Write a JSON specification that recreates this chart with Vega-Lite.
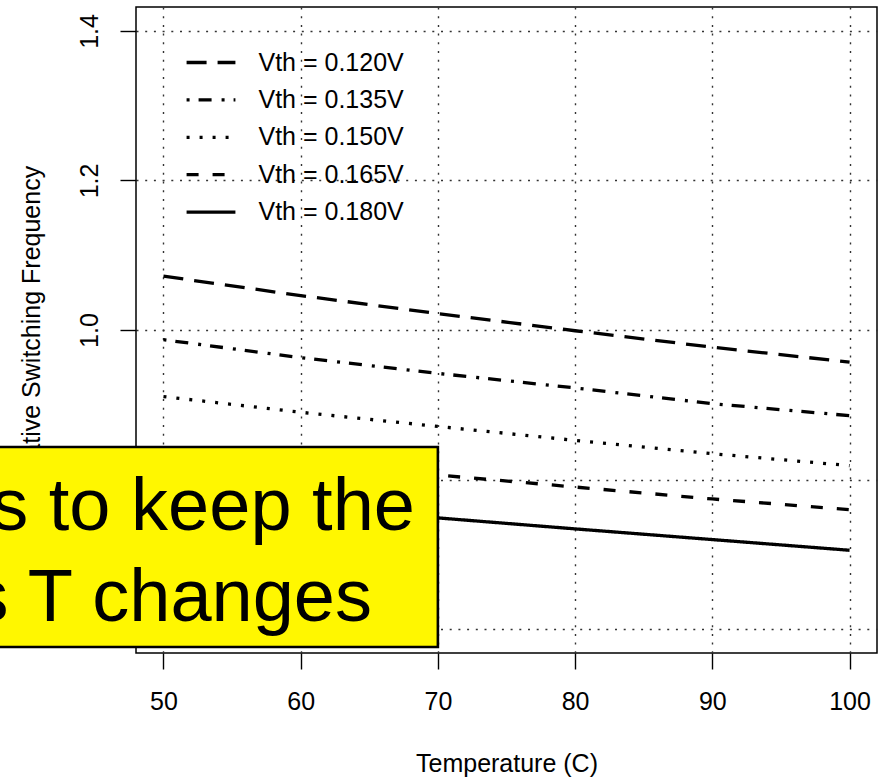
{
  "$schema": "https://vega.github.io/schema/vega-lite/v6.json",
  "autosize": {"type": "none"},
  "width": 741,
  "height": 646,
  "padding": {"left": 136, "top": 7, "right": 1, "bottom": 125},
  "background": "white",
  "config": {
    "view": {"stroke": "black", "strokeWidth": 1.5},
    "font": "Liberation Sans"
  },
  "datasets": {
    "curves": [
      {"series": "Vth = 0.120V", "T": 50, "f": 1.072},
      {"series": "Vth = 0.120V", "T": 60, "f": 1.046},
      {"series": "Vth = 0.120V", "T": 70, "f": 1.022},
      {"series": "Vth = 0.120V", "T": 80, "f": 0.999},
      {"series": "Vth = 0.120V", "T": 90, "f": 0.977},
      {"series": "Vth = 0.120V", "T": 100, "f": 0.957},
      {"series": "Vth = 0.135V", "T": 50, "f": 0.987},
      {"series": "Vth = 0.135V", "T": 60, "f": 0.963},
      {"series": "Vth = 0.135V", "T": 70, "f": 0.942},
      {"series": "Vth = 0.135V", "T": 80, "f": 0.9225},
      {"series": "Vth = 0.135V", "T": 90, "f": 0.9015},
      {"series": "Vth = 0.135V", "T": 100, "f": 0.8854},
      {"series": "Vth = 0.150V", "T": 50, "f": 0.911},
      {"series": "Vth = 0.150V", "T": 60, "f": 0.890},
      {"series": "Vth = 0.150V", "T": 70, "f": 0.871},
      {"series": "Vth = 0.150V", "T": 80, "f": 0.8524},
      {"series": "Vth = 0.150V", "T": 90, "f": 0.8346},
      {"series": "Vth = 0.150V", "T": 100, "f": 0.8186},
      {"series": "Vth = 0.165V", "T": 50, "f": 0.841},
      {"series": "Vth = 0.165V", "T": 60, "f": 0.823},
      {"series": "Vth = 0.165V", "T": 70, "f": 0.806},
      {"series": "Vth = 0.165V", "T": 80, "f": 0.790},
      {"series": "Vth = 0.165V", "T": 90, "f": 0.774},
      {"series": "Vth = 0.165V", "T": 100, "f": 0.7598},
      {"series": "Vth = 0.180V", "T": 50, "f": 0.780},
      {"series": "Vth = 0.180V", "T": 60, "f": 0.764},
      {"series": "Vth = 0.180V", "T": 70, "f": 0.7487},
      {"series": "Vth = 0.180V", "T": 80, "f": 0.734},
      {"series": "Vth = 0.180V", "T": 90, "f": 0.7197},
      {"series": "Vth = 0.180V", "T": 100, "f": 0.7054}
    ],
    "notebox": [
      {"x0": 30, "x1": 70, "y0": 0.576, "y1": 0.8435}
    ],
    "notetext": [
      {"x": 68.33, "y": 0.7325, "label": "s to keep the"},
      {"x": 65.2, "y": 0.6108, "label": "s T changes"}
    ]
  },
  "layer": [
    {
      "data": {"name": "curves"},
      "mark": {"type": "line", "color": "black", "strokeWidth": 3.3, "strokeCap": "butt"},
      "encoding": {
        "x": {
          "field": "T", "type": "quantitative", "title": "Temperature (C)",
          "scale": {"domain": [48, 102], "nice": false, "zero": false},
          "axis": {
            "values": [50, 60, 70, 80, 90, 100],
            "grid": true, "gridColor": "#333333", "gridDash": [2, 6.7], "gridWidth": 1.4,
            "domain": false,
            "ticks": true, "tickSize": 16, "tickColor": "black", "tickWidth": 1.4,
            "labelFont": "Liberation Sans", "labelFontSize": 25, "labelColor": "black",
            "labelBaseline": "alphabetic", "labelPadding": 40, "labelFlush": false, "labelOverlap": false,
            "titleFont": "Liberation Sans", "titleFontSize": 25, "titleFontWeight": "normal", "titleColor": "black",
            "titleBaseline": "alphabetic", "titleAlign": "center", "titleX": 370.5, "titleY": 118
          }
        },
        "y": {
          "field": "f", "type": "quantitative", "title": "Relative Switching Frequency",
          "scale": {"domain": [0.568, 1.432], "nice": false, "zero": false},
          "axis": {
            "values": [0.6, 0.8, 1.0, 1.2, 1.4], "format": ".1f",
            "grid": true, "gridColor": "#333333", "gridDash": [2, 6.7], "gridWidth": 1.4,
            "domain": false,
            "ticks": true, "tickSize": 16, "tickColor": "black", "tickWidth": 1.4,
            "labelFont": "Liberation Sans", "labelFontSize": 25, "labelColor": "black",
            "labelAngle": 270, "labelAlign": "center", "labelBaseline": "alphabetic", "labelPadding": 23, "labelOverlap": false, "labelFlush": false,
            "titleFont": "Liberation Sans", "titleFontSize": 25, "titleFontWeight": "normal", "titleColor": "black",
            "titleAngle": 270, "titleAlign": "center", "titleBaseline": "alphabetic", "titleX": -97, "titleY": 323
          }
        },
        "strokeDash": {
          "field": "series", "type": "nominal",
          "scale": {
            "domain": ["Vth = 0.120V", "Vth = 0.135V", "Vth = 0.150V", "Vth = 0.165V", "Vth = 0.180V"],
            "range": [[20, 11], [3, 9, 13, 10], [3, 10], [12, 14], [1, 0]]
          },
          "legend": {
            "orient": "none", "legendX": 54.5, "legendY": 35, "title": null,
            "symbolType": "M-1.32,0H1.32", "symbolSize": 1369, "symbolStrokeWidth": 3.3, "symbolStrokeColor": "black", "symbolFillColor": "transparent",
            "labelFont": "Liberation Sans", "labelFontSize": 25, "labelColor": "black", "labelOffset": 27, "labelLimit": 0,
            "rowPadding": 3.4
          }
        }
      }
    },
    {
      "data": {"name": "notebox"},
      "mark": {"type": "rect", "fill": "#FFF700", "stroke": "black", "strokeWidth": 2.6},
      "encoding": {
        "x": {"field": "x0", "type": "quantitative", "title": "Temperature (C)"},
        "x2": {"field": "x1"},
        "y": {"field": "y0", "type": "quantitative", "title": "Relative Switching Frequency"},
        "y2": {"field": "y1"}
      }
    },
    {
      "data": {"name": "notetext"},
      "mark": {"type": "text", "align": "right", "baseline": "alphabetic", "font": "Liberation Sans", "fontSize": 74, "color": "black"},
      "encoding": {
        "x": {"field": "x", "type": "quantitative", "title": "Temperature (C)"},
        "y": {"field": "y", "type": "quantitative", "title": "Relative Switching Frequency"},
        "text": {"field": "label"}
      }
    }
  ]
}
